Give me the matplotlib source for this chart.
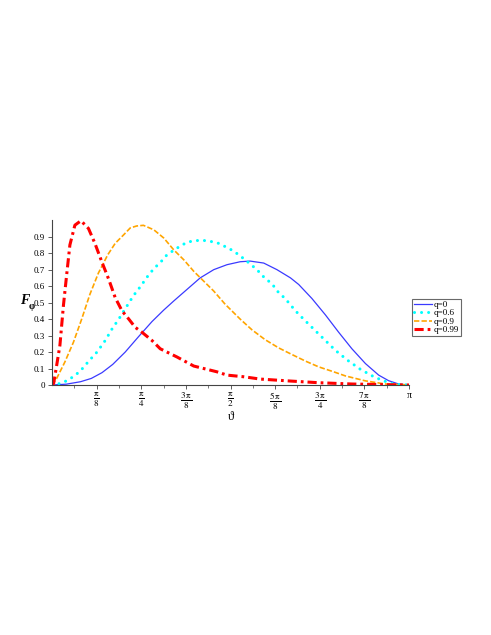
import numpy as np
import matplotlib
matplotlib.use('Agg')
import matplotlib.pyplot as plt

plt.rcParams['font.family'] = 'serif'
plt.rcParams['font.serif'] = ['Liberation Serif', 'DejaVu Serif']
plt.rcParams['mathtext.fontset'] = 'stix'

# theta values given as fractions of pi
th_q0 = [0, 0.04, 0.08, 0.11, 0.14, 0.17, 0.205, 0.243, 0.280, 0.313, 0.341,
         0.378, 0.415, 0.453, 0.490, 0.527, 0.555, 0.593, 0.630, 0.668, 0.691,
         0.728, 0.766, 0.803, 0.840, 0.878, 0.915, 0.943, 0.971, 1.0]
f_q0 = [0, 0.005, 0.02, 0.04, 0.075, 0.125, 0.20, 0.295, 0.385, 0.455, 0.51,
        0.58, 0.65, 0.70, 0.73, 0.748, 0.752, 0.74, 0.70, 0.65, 0.61,
        0.525, 0.425, 0.32, 0.22, 0.13, 0.06, 0.026, 0.006, 0]

th_q06 = [0, 0.025, 0.045, 0.063, 0.080, 0.095, 0.107, 0.126, 0.149, 0.168,
          0.187, 0.210, 0.224, 0.238, 0.249, 0.261, 0.275, 0.289, 0.306, 0.320,
          0.339, 0.357, 0.378, 0.399, 0.422, 0.443, 0.464, 0.485, 0.507, 0.523,
          0.541, 0.574, 0.591, 0.607, 0.621, 0.635, 0.653, 0.682, 0.700, 0.728,
          0.761, 0.794, 0.828, 0.864, 0.904, 0.943, 0.962, 1.0]
f_q06 = [0, 0.01, 0.03, 0.056, 0.087, 0.125, 0.155, 0.20, 0.27, 0.34,
         0.40, 0.48, 0.528, 0.572, 0.60, 0.64, 0.68, 0.714, 0.75, 0.785,
         0.815, 0.84, 0.866, 0.876, 0.878, 0.872, 0.862, 0.84, 0.815, 0.79,
         0.76, 0.70, 0.66, 0.63, 0.60, 0.56, 0.525, 0.45, 0.41, 0.35,
         0.28, 0.21, 0.15, 0.095, 0.047, 0.014, 0.004, 0]

th_q09 = [0, 0.013, 0.036, 0.060, 0.083, 0.106, 0.130, 0.156, 0.177, 0.200,
          0.219, 0.237, 0.256, 0.285, 0.313, 0.341, 0.369, 0.397, 0.425, 0.453,
          0.485, 0.527, 0.560, 0.597, 0.635, 0.672, 0.710, 0.747, 0.789, 0.822,
          0.878, 0.934, 1.0]
f_q09 = [0, 0.04, 0.14, 0.26, 0.40, 0.55, 0.68, 0.79, 0.86, 0.91,
         0.953, 0.965, 0.969, 0.942, 0.892, 0.82, 0.76, 0.69, 0.63, 0.57,
         0.49, 0.40, 0.335, 0.275, 0.225, 0.185, 0.145, 0.11, 0.08, 0.055,
         0.025, 0.006, 0]

th_q099 = [0, 0.0045, 0.013, 0.022, 0.032, 0.041, 0.050, 0.064, 0.081, 0.102,
           0.120, 0.139, 0.159, 0.177, 0.196, 0.215, 0.233, 0.252, 0.280, 0.303,
           0.350, 0.397, 0.462, 0.490, 0.537, 0.583, 0.668, 0.746, 0.840, 0.934,
           1.0]
f_q099 = [0, 0.01, 0.12, 0.24, 0.485, 0.67, 0.85, 0.97, 0.997, 0.95,
          0.86, 0.75, 0.64, 0.53, 0.45, 0.40, 0.35, 0.32, 0.27, 0.22,
          0.17, 0.115, 0.08, 0.06, 0.05, 0.036, 0.024, 0.014, 0.006, 0.002,
          0]

tick_pos = [1/8, 1/4, 3/8, 1/2, 5/8, 3/4, 7/8, 1]
tick_lab = [r'$\frac{\mathrm{\pi}}{8}$', r'$\frac{\mathrm{\pi}}{4}$',
            r'$\frac{3\,\mathrm{\pi}}{8}$', r'$\frac{\mathrm{\pi}}{2}$',
            r'$\frac{5\,\mathrm{\pi}}{8}$', r'$\frac{3\,\mathrm{\pi}}{4}$',
            r'$\frac{7\,\mathrm{\pi}}{8}$', 'π']

fig = plt.figure(figsize=(4.91, 6.35), dpi=100)
ax = fig.add_axes([0.106, 0.3937, 0.727, 0.2595])

ax.plot(np.array(th_q0) * np.pi, f_q0, color='#3a3aff', lw=0.9, label='q=0')
ax.plot(np.array(th_q06) * np.pi, f_q06, color='#00ffff', lw=2.2,
        linestyle=(0, (0.01, 2.3)), dash_capstyle='round', label='q=0.6')
ax.plot(np.array(th_q09) * np.pi, f_q09, color='#ffa500', lw=1.2,
        linestyle=(0, (3.2, 1.3)), label='q=0.9')
ax.plot(np.array(th_q099) * np.pi, f_q099, color='#ff0000', lw=2.2,
        linestyle=(0, (3.0, 1.3, 0.9, 1.3)), label='q=0.99')

ax.set_xlim(0, np.pi)
ax.set_ylim(0, 1.0)
ax.spines['top'].set_visible(False)
ax.spines['right'].set_visible(False)
for s in ['left', 'bottom']:
    ax.spines[s].set_linewidth(0.8)
    ax.spines[s].set_color('#444444')

ax.set_xticks(np.array(tick_pos) * np.pi)
ax.set_xticklabels(tick_lab, fontsize=9.5)
ax.get_xticklabels()[-1].set_fontsize(7)
ax.set_xticks(np.arange(1, 16, 2) / 16 * np.pi, minor=True)
ax.set_yticks(np.arange(0, 1.0, 0.1))
ax.set_yticklabels(['0'] + ['%.1f' % v for v in np.arange(0.1, 0.95, 0.1)],
                   fontsize=6.5)
ax.tick_params(axis='both', which='major', length=3, width=0.6,
               colors='#444444', labelcolor='black', pad=2)
ax.tick_params(axis='x', which='major', pad=1)
ax.tick_params(axis='x', which='minor', length=2, width=0.5, colors='#444444')

fig.text(0.040, 0.527, 'F', fontsize=10, fontweight='bold', style='italic',
         ha='left', va='center')
fig.text(0.058, 0.517, 'φ', fontsize=7, fontweight='bold',
         ha='left', va='center')
ax.set_xlabel('ϑ', fontsize=9, labelpad=-0.5)

leg = ax.legend(loc='upper left', bbox_to_anchor=(1.008, 0.522), fontsize=6.5,
                frameon=True, fancybox=False, borderpad=0.2,
                labelspacing=0.0, handlelength=2.0, handletextpad=0.2,
                borderaxespad=0)
leg.get_frame().set_edgecolor('#444444')
leg.get_frame().set_linewidth(0.8)

fig.savefig('out.png', dpi=100)
